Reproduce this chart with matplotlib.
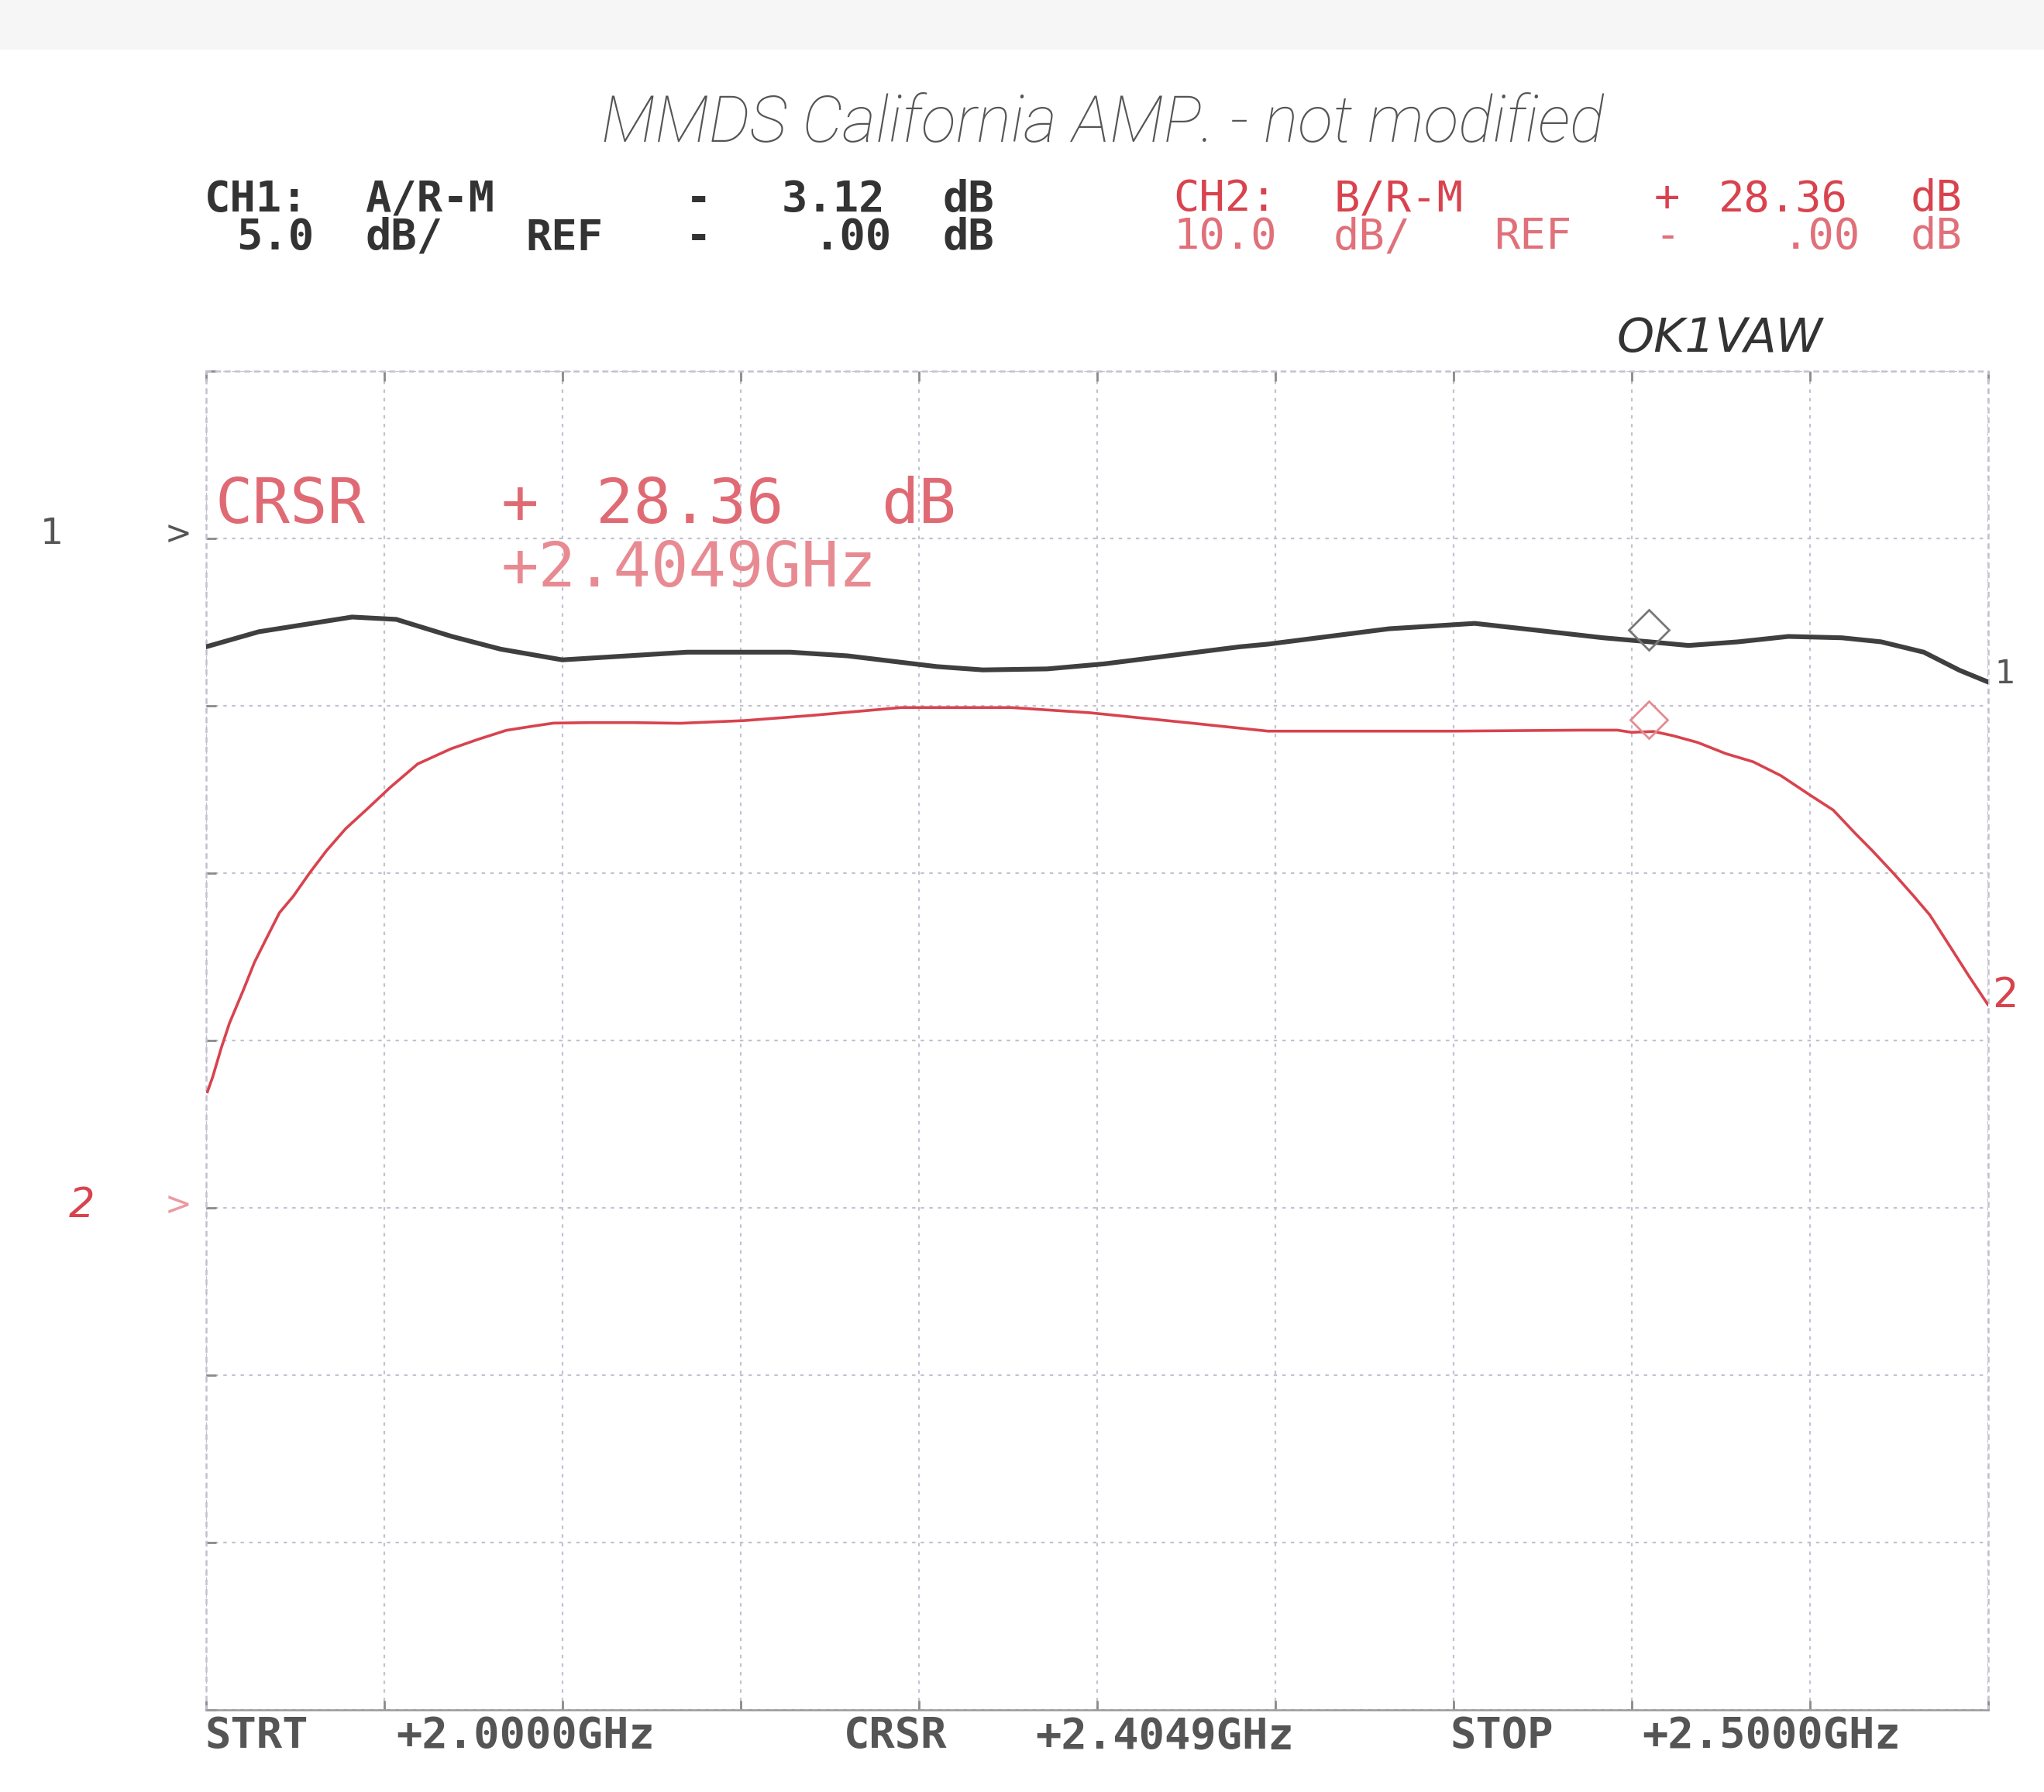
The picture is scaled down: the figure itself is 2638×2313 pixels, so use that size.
import numpy as np
import matplotlib
matplotlib.use("Agg")
import matplotlib.pyplot as plt

# sweep 2.0 - 2.5 GHz, 10 horizontal divisions
f_start, f_stop = 2.0, 2.5

# channel 1: A/R-M, 5 dB/div, ref 0 dB on 2nd line from top
ch1_freq = [2.000, 2.0148, 2.041, 2.0534, 2.069, 2.0827, 2.100, 2.135, 2.164, 2.180,
            2.205, 2.218, 2.236, 2.252, 2.267, 2.290, 2.298, 2.332, 2.350, 2.356,
            2.373, 2.392, 2.405, 2.416, 2.430, 2.444, 2.459, 2.470, 2.482, 2.492, 2.500]
ch1_db = [-3.23, -2.78, -2.34, -2.41, -2.92, -3.30, -3.62, -3.39, -3.39, -3.50,
          -3.82, -3.92, -3.89, -3.74, -3.54, -3.23, -3.15, -2.69, -2.57, -2.53,
          -2.73, -2.96, -3.08, -3.19, -3.08, -2.92, -2.96, -3.08, -3.39, -3.93, -4.28]

# channel 2: B/R-M, 10 dB/div, ref 0 dB on 5th line from top
ch2_freq = [2.0004, 2.0019, 2.0043, 2.0066, 2.0105, 2.0136, 2.0167, 2.0206, 2.0245,
            2.0291, 2.0338, 2.0392, 2.0455, 2.0517, 2.0594, 2.0688, 2.0765, 2.0843,
            2.0921, 2.0975, 2.1076, 2.120, 2.133, 2.151, 2.170, 2.195, 2.226, 2.248,
            2.277, 2.298, 2.350, 2.386, 2.396, 2.400, 2.4062, 2.4116, 2.4186, 2.4264,
            2.4341, 2.4419, 2.450, 2.4566, 2.4628, 2.4674, 2.4736, 2.4791, 2.4837,
            2.4899, 2.4946, 2.500]
ch2_db = [6.94, 7.84, 9.57, 11.05, 13.03, 14.68, 16.00, 17.64, 18.63,
          20.03, 21.35, 22.67, 23.90, 25.14, 26.54, 27.45, 28.02, 28.55,
          28.81, 28.98, 29.01, 29.01, 28.97, 29.13, 29.44, 29.91, 29.91, 29.60,
          28.97, 28.50, 28.50, 28.56, 28.56, 28.43, 28.48, 28.23, 27.82, 27.16,
          26.67, 25.84, 24.69, 23.78, 22.38, 21.39, 19.98, 18.66, 17.51,
          15.45, 13.88, 12.15]

cursor_f = 2.4049

hdr_ch1 = [[(0, "CH1:"), (5, "A/R-M"), (15, "-"), (18, "3.12"), (23, "dB")],
           [(1, "5.0"), (5, "dB/"), (10, "REF"), (15, "-"), (19, ".00"), (23, "dB")]]
hdr_ch2 = [[(0, "CH2:"), (5, "B/R-M"), (15, "+"), (17, "28.36"), (23, "dB")],
           [(0, "10.0"), (5, "dB/"), (10, "REF"), (15, "-"), (19, ".00"), (23, "dB")]]
crsr_txt = [[(0, "CRSR"), (6, "+"), (8, "28.36"), (14, "dB")],
            [(6, "+2.4049GHz")]]
bottom_txt = [(0, "STRT"), (6, "+2.0000GHz"), (20, "CRSR"), (26, "+2.4049GHz"),
              (39, "STOP"), (45, "+2.5000GHz")]

BLACK = "#3f3f3f"
RED = "#d8434e"
GRID = "#c2c2d2"
W, H = 1568.0, 1375.0   # layout measured on the reduced scan


def fx(x):
    return x / W


def fy(y):
    return 1 - y / H


def segments(fig, x0, y, cell, segs, **kw):
    for col, s in segs:
        fig.text(fx(x0 + col * cell), fy(y), s, ha="left", va="center", **kw)


fig = plt.figure(figsize=(26.38, 23.13), dpi=100)
fig.patch.set_facecolor("white")
# faint scanner band at the top
fig.patches.append(plt.Rectangle((0, fy(38)), 1, 1 - fy(38), transform=fig.transFigure,
                                 facecolor="#f6f6f6", edgecolor="none", zorder=0))

ax = fig.add_axes([fx(158), fy(1312), fx(1525) - fx(158), fy(285) - fy(1312)])
ax.set_xlim(f_start, f_stop)
ax.set_ylim(-35, 5)
ax.set_xticks(np.linspace(f_start, f_stop, 11))
ax.set_yticks(np.linspace(-35, 5, 9))
ax.grid(True, color=GRID, linestyle=(0, (2, 3)), linewidth=1.6)
ax.tick_params(direction="in", length=9, width=2, color="#8a8a8a",
               top=True, bottom=True, left=True, right=True,
               labelbottom=False, labelleft=False)
for sp in ax.spines.values():
    sp.set_color(GRID)
    sp.set_linestyle((0, (2, 3)))
    sp.set_linewidth(1.8)
ax.spines["bottom"].set_color("#9a9a9a")
ax.spines["bottom"].set_linestyle("-")

ax2 = ax.twinx()
ax2.set_ylim(-30, 50)
ax2.axis("off")

ax.plot(ch1_freq, ch1_db, color=BLACK, linewidth=4.4, solid_capstyle="round", zorder=3)
ax2.plot(ch2_freq, ch2_db, color=RED, linewidth=2.6, zorder=3)

# cursor symbols
c1 = np.interp(cursor_f, ch1_freq, ch1_db)
c2 = np.interp(cursor_f, ch2_freq, ch2_db)
ax.plot([cursor_f], [c1 + 0.35], marker="D", markersize=26, markerfacecolor="none",
        markeredgecolor="#777777", markeredgewidth=2, linestyle="none", zorder=4)
ax2.plot([cursor_f], [c2 + 0.7], marker="D", markersize=24, markerfacecolor="none",
         markeredgecolor="#e58a90", markeredgewidth=2, linestyle="none", zorder=4)

mono = dict(family="DejaVu Sans Mono", fontsize=40)
segments(fig, 157, 153, 24.6, hdr_ch1[0], color="#333333", weight="bold", **mono)
segments(fig, 157, 182, 24.6, hdr_ch1[1], color="#333333", weight="bold", **mono)
segments(fig, 900, 153, 24.6, hdr_ch2[0], color=RED, **mono)
segments(fig, 900, 182, 24.6, hdr_ch2[1], color="#e0707a", **mono)

segments(fig, 165, 388, 36.5, crsr_txt[0], color="#e06a74",
         family="DejaVu Sans Mono", fontsize=58)
segments(fig, 165, 437, 36.5, crsr_txt[1], color="#e88a92",
         family="DejaVu Sans Mono", fontsize=58)

segments(fig, 157, 1332, 24.5, bottom_txt, color="#555555", weight="bold", **mono)

# handwritten notes
fig.text(fx(846), fy(95), "MMDS California AMP. - not modified", ha="center", va="center",
         family="Roboto", style="italic", weight="light", fontsize=60, color="#555555")
fig.text(fx(1240), fy(260), "OK1VAW", ha="left", va="center",
         family="DejaVu Sans", style="italic", fontsize=44, color="#333333")

# channel reference markers
fig.text(fx(40), fy(410), "1", ha="center", va="center", fontsize=34, color="#555555")
fig.text(fx(137), fy(410), ">", ha="center", va="center", fontsize=30, color="#555555")
fig.text(fx(63), fy(925), "2", ha="center", va="center", fontsize=38, color=RED,
         style="italic")
fig.text(fx(137), fy(925), ">", ha="center", va="center", fontsize=30, color="#ec9aa0")
fig.text(fx(1538), fy(517), "1", ha="center", va="center", fontsize=30, color="#555555")
fig.text(fx(1538), fy(764), "2", ha="center", va="center", fontsize=38, color=RED)

fig.savefig("out.png", dpi=100)
